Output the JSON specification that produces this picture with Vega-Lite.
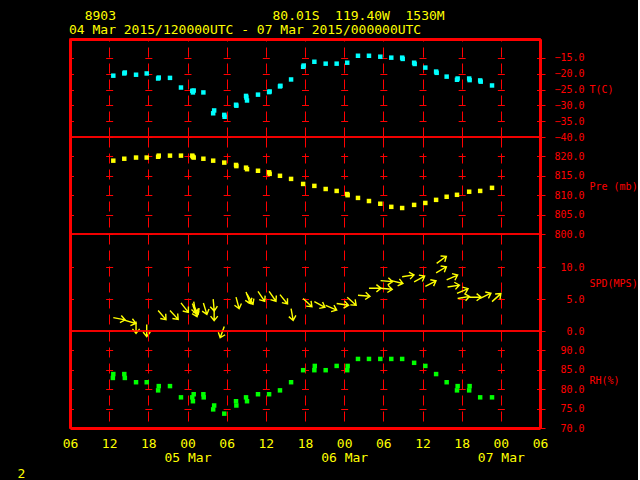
{
  "$schema": "https://vega.github.io/schema/vega-lite/v6.json",
  "background": "black",
  "padding": {"left": 16, "top": 10, "right": 0, "bottom": 0},
  "title": {
    "text": ["\u200b\u00a0\u00a08903\u00a0\u00a0\u00a0\u00a0\u00a0\u00a0\u00a0\u00a0\u00a0\u00a0\u00a0\u00a0\u00a0\u00a0\u00a0\u00a0\u00a0\u00a0\u00a0\u00a080.01S\u00a0\u00a0119.40W\u00a0\u00a01530M", "04 Mar 2015/120000UTC - 07 Mar 2015/000000UTC"],
    "anchor": "start", "frame": "group", "font": "DejaVu Sans Mono", "fontSize": 13, "fontWeight": "normal",
    "color": "#ffff00", "lineHeight": 14, "offset": 1, "dx": -1
  },
  "data": {"values": [
    {"t": "2015-03-04T12:38:00Z", "T": -20.6, "P": 818.9, "RH": 83.9, "spd": 2.1, "dir": 101},
    {"t": "2015-03-04T12:34:00Z", "RH": 82.9},
    {"t": "2015-03-04T14:19:00Z", "T": -19.9, "P": 819.4, "RH": 83.9, "spd": 1.7, "dir": 106},
    {"t": "2015-03-04T14:24:00Z", "T": -19.6, "RH": 82.9},
    {"t": "2015-03-04T16:07:00Z", "T": -20.3, "P": 819.7, "RH": 81.8, "spd": 1.5, "dir": 180},
    {"t": "2015-03-04T17:45:00Z", "T": -19.9, "P": 819.7, "RH": 81.8, "spd": 1.0, "dir": 180},
    {"t": "2015-03-04T19:30:00Z", "T": -21.5, "P": 819.9, "RH": 79.7, "spd": 3.2, "dir": 139},
    {"t": "2015-03-04T19:36:00Z", "T": -21.2, "P": 820.2, "RH": 80.8},
    {"t": "2015-03-04T21:19:00Z", "T": -21.3, "P": 820.2, "RH": 80.8, "spd": 3.2, "dir": 137},
    {"t": "2015-03-04T23:00:00Z", "T": -24.35, "P": 820.2, "RH": 77.9, "spd": 4.4, "dir": 142},
    {"t": "2015-03-05T00:44:00Z", "T": -25.4, "P": 820.2, "RH": 77.9, "spd": 4.3, "dir": 150},
    {"t": "2015-03-05T00:50:00Z", "T": -25.9, "P": 819.9, "RH": 76.9, "spd": 4.0, "dir": 160},
    {"t": "2015-03-05T00:57:00Z", "T": -25.3, "P": 819.7, "RH": 78.7, "spd": 4.6, "dir": 170},
    {"t": "2015-03-05T02:26:00Z", "T": -25.9, "P": 819.4, "RH": 78.7, "spd": 4.4, "dir": 163},
    {"t": "2015-03-05T02:29:00Z", "RH": 77.9},
    {"t": "2015-03-05T03:56:00Z", "T": -32.5, "P": 818.9, "RH": 74.8, "spd": 5.0, "dir": 175},
    {"t": "2015-03-05T04:05:00Z", "T": -31.6, "RH": 75.8, "spd": 3.5, "dir": 180},
    {"t": "2015-03-05T05:38:00Z", "T": -33.0, "P": 818.4, "RH": 73.7, "spd": 0.7, "dir": 200},
    {"t": "2015-03-05T05:41:00Z", "T": -33.6},
    {"t": "2015-03-05T07:26:00Z", "T": -29.8, "P": 817.8, "RH": 76.9, "spd": 5.3, "dir": 165},
    {"t": "2015-03-05T07:29:00Z", "T": -30.1, "P": 817.5, "RH": 75.8},
    {"t": "2015-03-05T08:58:00Z", "T": -27.0, "P": 817.1, "RH": 77.9, "spd": 6.1, "dir": 160},
    {"t": "2015-03-05T09:01:00Z", "T": -27.5},
    {"t": "2015-03-05T09:07:00Z", "T": -28.45, "P": 816.7, "RH": 76.9, "spd": 5.8, "dir": 150},
    {"t": "2015-03-05T10:48:00Z", "T": -26.6, "P": 816.3, "RH": 78.7, "spd": 6.2, "dir": 146},
    {"t": "2015-03-05T12:30:00Z", "T": -25.8, "P": 815.9, "RH": 78.7, "spd": 6.2, "dir": 145},
    {"t": "2015-03-05T12:35:00Z", "T": -25.6, "P": 815.5},
    {"t": "2015-03-05T14:10:00Z", "T": -24.0, "P": 815.0, "RH": 79.7, "spd": 5.7, "dir": 141},
    {"t": "2015-03-05T14:14:00Z", "T": -23.8},
    {"t": "2015-03-05T15:52:00Z", "T": -21.8, "P": 814.2, "RH": 81.8, "spd": 3.5, "dir": 170},
    {"t": "2015-03-05T17:43:00Z", "T": -17.8, "P": 812.9, "RH": 84.9, "spd": 5.1, "dir": 133},
    {"t": "2015-03-05T17:48:00Z", "T": -17.4},
    {"t": "2015-03-05T19:26:00Z", "T": -16.2, "P": 812.4, "RH": 84.9, "spd": 4.6, "dir": 118},
    {"t": "2015-03-05T19:30:00Z", "RH": 86.0},
    {"t": "2015-03-05T21:10:00Z", "T": -16.8, "P": 811.6, "RH": 84.9, "spd": 4.0, "dir": 113},
    {"t": "2015-03-05T22:51:00Z", "T": -16.8, "P": 811.1, "RH": 86.0, "spd": 4.3, "dir": 98},
    {"t": "2015-03-06T00:28:00Z", "T": -16.5, "P": 810.3, "RH": 84.9, "spd": 5.3, "dir": 132},
    {"t": "2015-03-06T00:32:00Z", "P": 810.0, "RH": 86.0},
    {"t": "2015-03-06T02:07:00Z", "T": -14.3, "P": 809.3, "RH": 87.8, "spd": 5.6, "dir": 95},
    {"t": "2015-03-06T03:48:00Z", "T": -14.3, "P": 808.5, "RH": 87.8, "spd": 6.7, "dir": 90},
    {"t": "2015-03-06T05:32:00Z", "T": -14.6, "P": 807.8, "RH": 87.8, "spd": 6.7, "dir": 95},
    {"t": "2015-03-06T05:35:00Z", "spd": 7.9, "dir": 95},
    {"t": "2015-03-06T07:13:00Z", "T": -14.9, "P": 807.0, "RH": 87.8, "spd": 7.9, "dir": 104},
    {"t": "2015-03-06T08:53:00Z", "T": -14.9, "P": 806.7, "RH": 87.8, "spd": 8.5, "dir": 81},
    {"t": "2015-03-06T08:58:00Z", "T": -15.3},
    {"t": "2015-03-06T10:43:00Z", "T": -16.5, "P": 807.5, "RH": 86.8, "spd": 7.7, "dir": 61},
    {"t": "2015-03-06T10:48:00Z", "T": -16.9},
    {"t": "2015-03-06T12:26:00Z", "T": -18.05, "P": 808.0, "RH": 86.0, "spd": 7.0, "dir": 63},
    {"t": "2015-03-06T14:05:00Z", "T": -19.3, "P": 808.8, "RH": 83.9, "spd": 9.1, "dir": 59},
    {"t": "2015-03-06T14:10:00Z", "T": -19.7, "spd": 10.6, "dir": 54},
    {"t": "2015-03-06T15:42:00Z", "T": -20.9, "P": 809.6, "RH": 81.8, "spd": 8.0, "dir": 66},
    {"t": "2015-03-06T15:50:00Z", "spd": 6.9, "dir": 81},
    {"t": "2015-03-06T17:17:00Z", "T": -21.9, "P": 810.1, "RH": 79.7, "spd": 5.9, "dir": 67},
    {"t": "2015-03-06T17:23:00Z", "T": -21.5, "RH": 80.8, "spd": 5.1, "dir": 80},
    {"t": "2015-03-06T19:09:00Z", "T": -21.5, "P": 810.9, "RH": 79.7, "spd": 5.3, "dir": 90},
    {"t": "2015-03-06T19:13:00Z", "T": -22.0, "RH": 80.8},
    {"t": "2015-03-06T20:50:00Z", "T": -22.1, "P": 811.1, "RH": 77.9, "spd": 5.1, "dir": 64},
    {"t": "2015-03-06T20:55:00Z", "T": -22.5},
    {"t": "2015-03-06T22:39:00Z", "T": -23.7, "P": 811.9, "RH": 77.9, "spd": 4.6, "dir": 48}
  ]},
  "bounds": "flush",
  "spacing": 0,
  "resolve": {"scale": {"x": "independent", "y": "independent"}, "axis": {"x": "independent", "y": "independent"}},
  "vconcat": [
    {
      "width": 470, "height": 98,
      "mark": {"type": "point", "shape": "square", "filled": true, "size": 20, "color": "#00ffff", "opacity": 1},
      "encoding": {
        "x": {"field": "t", "type": "temporal",
          "scale": {"type": "utc", "nice": false, "domain": [1425448800000, 1425708000000]},
          "axis": {"orient": "top", "title": null, "labels": false, "ticks": false, "domain": true, "domainColor": "#ff0000", "domainWidth": 3,
            "values": [1425448800000, 1425470400000, 1425492000000, 1425513600000, 1425535200000, 1425556800000, 1425578400000, 1425600000000, 1425621600000, 1425643200000, 1425664800000, 1425686400000, 1425708000000],
            "grid": true, "gridColor": "#ff0000", "gridOpacity": 1,
            "gridWidth": {"condition": {"test": "datum.index == 0 || datum.index == 1", "value": 3}, "value": 1},
            "gridDash": {"condition": {"test": "datum.index == 0 || datum.index == 1", "value": [1, 0]}, "value": [10, 6]}}},
        "y": {"field": "T", "type": "quantitative",
          "scale": {"domain": [-40, -9], "nice": false, "zero": false},
          "axis": {"orient": "right", "values": [-40, -35, -30, -25, -20, -15], "format": ".1f",
            "domainColor": "#ff0000", "domainWidth": 3, "tickColor": "#ff0000", "tickSize": 5,
            "labelColor": "#ff0000", "labelFont": "DejaVu Sans Mono", "labelFontSize": 10, "labelAlign": "right", "labelPadding": 39, "labelBaseline": "middle", "labelFlush": false, "labelOverlap": false,
            "grid": true, "gridColor": "#ff0000", "gridOpacity": 1, "gridWidth": 1, "gridDash": [7, 32.1667], "gridDashOffset": 3.5,
            "title": "T(C)", "titleAngle": 0, "titleAlign": "left", "titleBaseline": "middle", "titleX": 49, "titleY": 50,
            "titleColor": "#ff0000", "titleFont": "DejaVu Sans Mono", "titleFontSize": 10, "titleFontWeight": "normal"}}
      }
    },
    {
      "width": 470, "height": 97,
      "mark": {"type": "point", "shape": "square", "filled": true, "size": 20, "color": "#ffff00", "opacity": 1},
      "encoding": {
        "x": {"field": "t", "type": "temporal",
          "scale": {"type": "utc", "nice": false, "domain": [1425448800000, 1425708000000]},
          "axis": {"orient": "bottom", "title": null, "labels": false, "ticks": false, "domain": false,
            "values": [1425448800000, 1425470400000, 1425492000000, 1425513600000, 1425535200000, 1425556800000, 1425578400000, 1425600000000, 1425621600000, 1425643200000, 1425664800000, 1425686400000, 1425708000000],
            "grid": true, "gridColor": "#ff0000", "gridOpacity": 1,
            "gridWidth": {"condition": {"test": "datum.index == 0 || datum.index == 1", "value": 3}, "value": 1},
            "gridDash": {"condition": {"test": "datum.index == 0 || datum.index == 1", "value": [1, 0]}, "value": [10, 6]}}},
        "y": {"field": "P", "type": "quantitative",
          "scale": {"domain": [800, 825], "nice": false, "zero": false},
          "axis": {"orient": "right", "values": [800, 805, 810, 815, 820], "format": ".1f",
            "domainColor": "#ff0000", "domainWidth": 3, "tickColor": "#ff0000", "tickSize": 5,
            "labelColor": "#ff0000", "labelFont": "DejaVu Sans Mono", "labelFontSize": 10, "labelAlign": "right", "labelPadding": 39, "labelBaseline": "middle", "labelFlush": false, "labelOverlap": false,
            "grid": true, "gridColor": "#ff0000", "gridOpacity": 1, "gridWidth": 1, "gridDash": [7, 32.1667], "gridDashOffset": 3.5,
            "title": "Pre (mb)", "titleAngle": 0, "titleAlign": "left", "titleBaseline": "middle", "titleX": 49, "titleY": 49,
            "titleColor": "#ff0000", "titleFont": "DejaVu Sans Mono", "titleFontSize": 10, "titleFontWeight": "normal"}}
      }
    },
    {
      "width": 470, "height": 97,
      "mark": {"type": "point", "shape": "M0,0L0,-1M-0.3,-0.62L0,-1L0.3,-0.62", "filled": false, "size": 576, "strokeWidth": 1.4, "color": "#ffff00", "opacity": 1},
      "encoding": {
        "x": {"field": "t", "type": "temporal",
          "scale": {"type": "utc", "nice": false, "domain": [1425448800000, 1425708000000]},
          "axis": {"orient": "bottom", "title": null, "labels": false, "ticks": false, "domain": false,
            "values": [1425448800000, 1425470400000, 1425492000000, 1425513600000, 1425535200000, 1425556800000, 1425578400000, 1425600000000, 1425621600000, 1425643200000, 1425664800000, 1425686400000, 1425708000000],
            "grid": true, "gridColor": "#ff0000", "gridOpacity": 1,
            "gridWidth": {"condition": {"test": "datum.index == 0 || datum.index == 1", "value": 3}, "value": 1},
            "gridDash": {"condition": {"test": "datum.index == 0 || datum.index == 1", "value": [1, 0]}, "value": [10, 6]}}},
        "y": {"field": "spd", "type": "quantitative",
          "scale": {"domain": [0, 15.2], "nice": false, "zero": false},
          "axis": {"orient": "right", "values": [0, 5, 10], "format": ".1f",
            "domainColor": "#ff0000", "domainWidth": 3, "tickColor": "#ff0000", "tickSize": 5,
            "labelColor": "#ff0000", "labelFont": "DejaVu Sans Mono", "labelFontSize": 10, "labelAlign": "right", "labelPadding": 39, "labelBaseline": "middle", "labelFlush": false, "labelOverlap": false,
            "grid": true, "gridColor": "#ff0000", "gridOpacity": 1, "gridWidth": 1, "gridDash": [7, 32.1667], "gridDashOffset": 3.5,
            "title": "SPD(MPS)", "titleAngle": 0, "titleAlign": "left", "titleBaseline": "middle", "titleX": 49, "titleY": 49,
            "titleColor": "#ff0000", "titleFont": "DejaVu Sans Mono", "titleFontSize": 10, "titleFontWeight": "normal"}},
        "angle": {"field": "dir", "type": "quantitative", "scale": null}
      }
    },
    {
      "width": 470, "height": 97,
      "mark": {"type": "point", "shape": "square", "filled": true, "size": 20, "color": "#00ff00", "opacity": 1},
      "encoding": {
        "x": {"field": "t", "type": "temporal",
          "scale": {"type": "utc", "nice": false, "domain": [1425448800000, 1425708000000]},
          "axis": {"orient": "bottom", "ticks": false, "tickSize": 0, "domain": true, "domainColor": "#ff0000", "domainWidth": 3,
            "values": [1425448800000, 1425470400000, 1425492000000, 1425513600000, 1425535200000, 1425556800000, 1425578400000, 1425600000000, 1425621600000, 1425643200000, 1425664800000, 1425686400000, 1425708000000],
            "labels": true, "labelColor": "#ffff00", "labelFont": "DejaVu Sans Mono", "labelFontSize": 13, "labelLineHeight": 14, "labelPadding": 9, "labelBaseline": "top", "labelFlush": false, "labelOverlap": false, "labelBound": false,
            "labelExpr": "utchours(datum.value) == 0 ? [utcFormat(datum.value, '%H'), utcFormat(datum.value, '%d %b')] : utcFormat(datum.value, '%H')",
            "grid": true, "gridColor": "#ff0000", "gridOpacity": 1,
            "gridWidth": {"condition": {"test": "datum.index == 0 || datum.index == 1", "value": 3}, "value": 1},
            "gridDash": {"condition": {"test": "datum.index == 0 || datum.index == 1", "value": [1, 0]}, "value": [10, 6]},
            "title": "2", "titleX": -53, "titleY": 49, "titleAlign": "left", "titleBaseline": "alphabetic", "titleAngle": 0,
            "titleColor": "#ffff00", "titleFont": "DejaVu Sans Mono", "titleFontSize": 13, "titleFontWeight": "normal"}},
        "y": {"field": "RH", "type": "quantitative",
          "scale": {"domain": [70, 95], "nice": false, "zero": false},
          "axis": {"orient": "right", "values": [70, 75, 80, 85, 90], "format": ".1f",
            "domainColor": "#ff0000", "domainWidth": 3, "tickColor": "#ff0000", "tickSize": 5,
            "labelColor": "#ff0000", "labelFont": "DejaVu Sans Mono", "labelFontSize": 10, "labelAlign": "right", "labelPadding": 39, "labelBaseline": "middle", "labelFlush": false, "labelOverlap": false,
            "grid": true, "gridColor": "#ff0000", "gridOpacity": 1, "gridWidth": 1, "gridDash": [7, 32.1667], "gridDashOffset": 3.5,
            "title": "RH(%)", "titleAngle": 0, "titleAlign": "left", "titleBaseline": "middle", "titleX": 49, "titleY": 49,
            "titleColor": "#ff0000", "titleFont": "DejaVu Sans Mono", "titleFontSize": 10, "titleFontWeight": "normal"}}
      }
    }
  ],
  "config": {
    "view": {"stroke": "#ff0000", "strokeWidth": 1.5}
  }
}
